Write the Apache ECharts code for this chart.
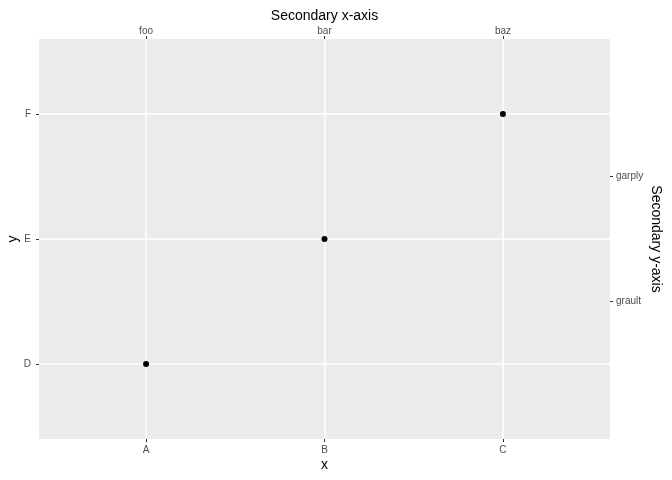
<!DOCTYPE html>
<html><head><meta charset="utf-8">
<script src="https://cdn.jsdelivr.net/npm/echarts@6/dist/echarts.min.js"></script>
<style>html,body{margin:0;padding:0;background:#fff}#c{width:672px;height:480px}</style>
</head><body><div id="c"></div>
<script>
const xCats = ['A', 'B', 'C'];
const yCats = ['D', 'E', 'F'];
const secXLabels = ['foo', 'bar', 'baz'];
const secYLabels = ['grault', 'garply'];
const secYPositions = [1.5, 2.5];
const pointsX = ['A', 'B', 'C'];
const pointsY = ['D', 'E', 'F'];

const FONT = '"Liberation Sans", Arial, sans-serif';
const xIdx = v => xCats.indexOf(v) + 1;
const yIdx = v => yCats.indexOf(v) + 1;
const ints = [1, 2, 3];

const tickStyle = {show: true, length: 3, lineStyle: {color: '#333333', width: 1}};
const lblStyle = {color: '#4D4D4D', fontSize: 10, fontFamily: FONT};
const nameStyle = {color: '#000000', fontSize: 14, fontFamily: FONT};

const chart = echarts.init(document.getElementById('c'));
chart.setOption({
  animation: false,
  backgroundColor: '#ffffff',
  grid: {left: 39, right: 62, top: 39, bottom: 41, containLabel: false, outerBoundsMode: 'none',
         show: true, backgroundColor: '#EBEBEB', borderWidth: 0},
  xAxis: [{
    type: 'value', position: 'bottom', min: 0.4, max: 3.6,
    name: 'x', nameLocation: 'middle', nameGap: 19, nameMoveOverlap: false, nameTextStyle: nameStyle,
    axisLine: {show: false},
    axisTick: Object.assign({customValues: ints}, tickStyle),
    axisLabel: Object.assign({customValues: ints, margin: 6,
      formatter: v => xCats[Math.round(v) - 1] || ''}, lblStyle),
    splitLine: {show: true, lineStyle: {color: '#ffffff', width: 1.5}}
  }, {
    type: 'value', position: 'top', min: 0.4, max: 3.6,
    name: 'Secondary x-axis', nameLocation: 'middle', nameGap: 16, nameMoveOverlap: false, nameTextStyle: nameStyle,
    axisLine: {show: false},
    axisTick: Object.assign({customValues: ints}, tickStyle),
    axisLabel: Object.assign({customValues: ints, margin: 3,
      formatter: v => secXLabels[Math.round(v) - 1] || ''}, lblStyle),
    splitLine: {show: false}
  }],
  yAxis: [{
    type: 'value', position: 'left', min: 0.4, max: 3.6,
    name: 'y', nameLocation: 'middle', nameGap: 19, nameRotate: 90, nameMoveOverlap: false, nameTextStyle: nameStyle,
    axisLine: {show: false},
    axisTick: Object.assign({customValues: ints}, tickStyle),
    axisLabel: Object.assign({customValues: ints, margin: 8,
      formatter: v => yCats[Math.round(v) - 1] || ''}, lblStyle),
    splitLine: {show: true, lineStyle: {color: '#ffffff', width: 1.5}}
  }, {
    type: 'value', position: 'right', min: 0.4, max: 3.6,
    name: 'Secondary y-axis', nameLocation: 'middle', nameGap: 39, nameRotate: -90, nameMoveOverlap: false, nameTextStyle: nameStyle,
    axisLine: {show: false},
    axisTick: Object.assign({customValues: secYPositions}, tickStyle),
    axisLabel: Object.assign({customValues: secYPositions, margin: 6,
      formatter: v => secYLabels[secYPositions.indexOf(v)] || ''}, lblStyle),
    splitLine: {show: false}
  }],
  series: [{
    type: 'scatter', xAxisIndex: 0, yAxisIndex: 0,
    symbol: 'circle', symbolSize: 6,
    itemStyle: {color: '#000000', opacity: 1},
    data: pointsX.map((x, i) => [xIdx(x), yIdx(pointsY[i])])
  }]
});
</script></body></html>
